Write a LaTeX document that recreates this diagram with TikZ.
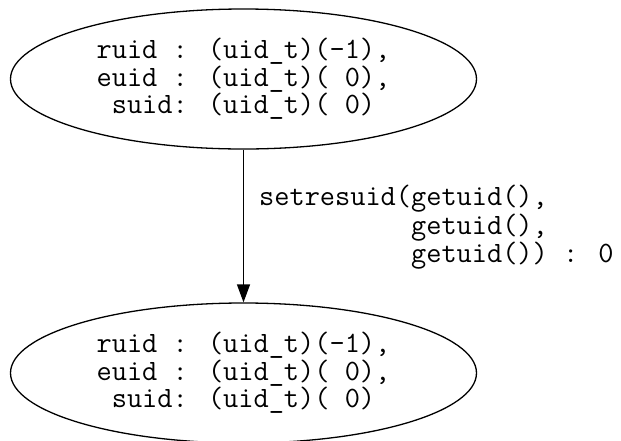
\documentclass[tikz,border=0pt]{standalone}
\usepackage{fontspec}
\usetikzlibrary{shapes.geometric,arrows.meta}

\tikzset{
    uidstate/.style={draw, ellipse, line width=1.3pt, inner sep=0pt,
        minimum width=466pt, minimum height=140pt, align=center,
        font=\ttfamily\fontsize{29.5}{25.5}\selectfont},
    calllabel/.style={inner sep=0pt, align=left,
        font=\ttfamily\fontsize{29.5}{28.5}\selectfont},
}

\begin{document}
\begin{tikzpicture}
    \useasboundingbox (0,0) rectangle (621pt,-440pt);

    % States before and after the call
    \node[uidstate] (before) at (243.5pt,-79pt)
        {ruid : (uid\_t)(-1),\\euid : (uid\_t)( 0),\\suid: (uid\_t)( 0)};
    \node[uidstate] (after) at (243.5pt,-373pt)
        {ruid : (uid\_t)(-1),\\euid : (uid\_t)( 0),\\suid: (uid\_t)( 0)};

    % Transition
    \draw[line width=1.3pt, -{Triangle[length=18pt,width=13pt]}] (before) -- (after);
    \node[calllabel, anchor=north west] (call) at (259pt,-185pt)
        {setresuid(getuid(),\\
         \phantom{setresuid(}getuid(),\\
         \phantom{setresuid(}getuid()) : 0};
\end{tikzpicture}
\end{document}
